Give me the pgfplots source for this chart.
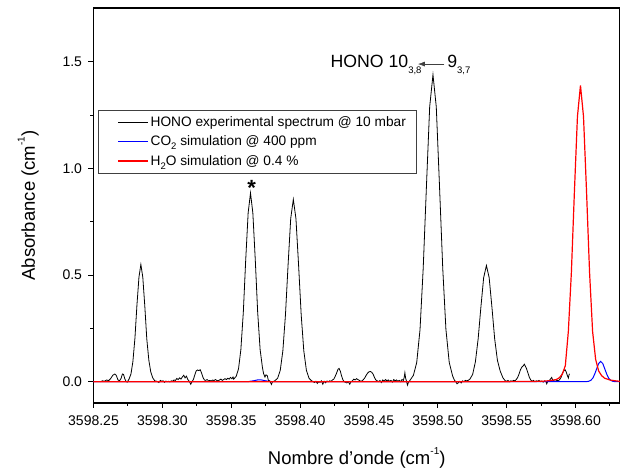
\documentclass[border=0pt]{standalone}
\usepackage{pgfplots}
\pgfplotsset{compat=1.18}
\usetikzlibrary{arrows.meta}
\usepackage{fontspec}
\setmainfont{Liberation Sans}
% small lowered / raised indices as in the original figure
\newcommand\lo[2]{\raisebox{#1}{\fontsize{9.5bp}{10bp}\selectfont #2}}
\newcommand\hi[1]{\raisebox{0.55em}{\fontsize{10bp}{10bp}\selectfont #1}}
\pgfplotsset{
  leg/.style={legend image code/.code={\path (0bp,0bp); \draw[#1, line width=1.2bp] (11bp,0bp) -- (41bp,0bp);}},
}
\begin{document}
\begin{tikzpicture}
% x values are wavenumber - 3598 cm^-1 (labels restore the full value)
\begin{axis}[
    scale only axis,
    width=526.5bp, height=395bp,
    xmin=0.25, xmax=0.6323,
    ymin=-0.1, ymax=1.753,
    axis line style={line width=1.1bp},
    tick align=outside, tick pos=left,
    major tick length=5bp, minor tick length=3bp,
    every tick/.style={black, line width=0.9bp},
    xtick={0.25,0.30,0.35,0.40,0.45,0.50,0.55,0.60},
    xticklabels={3598.25,3598.30,3598.35,3598.40,3598.45,3598.50,3598.55,3598.60},
    minor xtick={0.275,0.325,0.375,0.425,0.475,0.525,0.575,0.625},
    ytick={0,0.5,1,1.5},
    minor ytick={-0.25,0.25,0.75,1.25},
    ticklabel style={font=\fontsize{14bp}{16bp}\selectfont},
    xticklabel style={yshift=-4bp},
    yticklabel style={xshift=-3bp, /pgf/number format/.cd, fixed, fixed zerofill, precision=1, assume math mode=true},
    xlabel={Nombre d'onde (cm\hi{-1})},
    ylabel={Absorbance (cm\hi{-1})},
    label style={font=\fontsize{18.5bp}{20bp}\selectfont},
    xlabel style={at={(axis description cs:0.5,-0.139)}, anchor=center},
    ylabel style={at={(axis description cs:-0.124,0.5)}, anchor=center},
    legend style={at={(axis description cs:0.009,0.741)}, anchor=north west,
        draw=black!75, inner xsep=8bp, inner ysep=4bp,
        font=\fontsize{13.7bp}{15bp}\selectfont, row sep=4bp},
    legend cell align=left,
]
\addplot[black, line width=0.8bp, leg=black] coordinates {
 (0.2551,0.000) (0.2565,0.004) (0.2580,0.002) (0.2595,0.008) (0.2610,0.005)
 (0.2625,0.015) (0.2640,0.030) (0.2655,0.036) (0.2665,0.030) (0.2678,0.008)
 (0.2689,0.004) (0.2700,0.015) (0.2710,0.036) (0.2718,0.034) (0.2728,0.012)
 (0.2738,0.000) (0.2745,-0.002)
 (0.2758,0.012) (0.2772,0.036) (0.2786,0.094) (0.2801,0.205) (0.2815,0.355)
 (0.2830,0.490) (0.2844,0.550) (0.2858,0.490) (0.2873,0.350) (0.2887,0.200)
 (0.2902,0.100) (0.2916,0.045) (0.2930,0.018) (0.2945,0.004)
 (0.2960,0.002) (0.2975,-0.004) (0.2985,0.006) (0.2995,0.002) (0.3005,0.004)
 (0.3015,-0.003) (0.3025,0.003) (0.3035,0.000) (0.3045,0.002) (0.3055,-0.001)
 (0.3065,0.004) (0.3075,0.002) (0.3085,0.008) (0.3095,0.006) (0.3105,0.015)
 (0.3115,0.010) (0.3125,0.018) (0.3135,0.012) (0.3145,0.022) (0.3155,0.030)
 (0.3165,0.018) (0.3175,0.026) (0.3185,0.010) (0.3195,0.002) (0.3206,-0.012)
 (0.3215,0.000) (0.3225,0.010) (0.3235,0.030) (0.3245,0.050) (0.3255,0.055)
 (0.3265,0.052) (0.3275,0.056) (0.3285,0.040) (0.3295,0.020) (0.3305,0.008)
 (0.3315,0.006) (0.3325,0.010) (0.3335,0.004) (0.3345,0.006) (0.3355,0.003)
 (0.3365,0.008) (0.3375,0.005) (0.3385,0.010) (0.3395,0.006) (0.3405,0.004)
 (0.3415,0.008) (0.3425,0.012) (0.3435,0.006) (0.3445,0.010) (0.3455,0.014)
 (0.3465,0.010) (0.3475,0.016) (0.3485,0.012) (0.3495,0.020) (0.3505,0.014)
 (0.3513,0.022)
 (0.3518,0.012) (0.3536,0.025) (0.3553,0.060) (0.3570,0.150) (0.3588,0.327)
 (0.3605,0.568) (0.3623,0.792) (0.3640,0.885) (0.3657,0.792) (0.3675,0.568)
 (0.3692,0.327) (0.3710,0.150) (0.3727,0.065) (0.3735,0.038) (0.3745,0.022)
 (0.3752,0.032) (0.3762,0.028) (0.3770,0.006) (0.3780,0.004) (0.3792,-0.013)
 (0.3800,0.000) (0.3810,0.002)
 (0.3818,0.005) (0.3837,0.016) (0.3856,0.053) (0.3875,0.145) (0.3894,0.315)
 (0.3913,0.549) (0.3932,0.765) (0.3951,0.855) (0.3970,0.765) (0.3989,0.549)
 (0.4008,0.315) (0.4027,0.145) (0.4046,0.053) (0.4065,0.016) (0.4084,0.004)
 (0.4095,0.000) (0.4105,-0.004) (0.4115,0.002) (0.4125,-0.008) (0.4135,0.000)
 (0.4145,-0.003) (0.4155,0.004) (0.4165,-0.012) (0.4175,0.002) (0.4185,-0.005)
 (0.4195,0.003) (0.4205,0.000) (0.4215,0.004) (0.4225,0.002) (0.4235,0.008)
 (0.4245,0.012) (0.4255,0.025) (0.4265,0.040) (0.4275,0.058) (0.4283,0.062)
 (0.4292,0.050) (0.4300,0.030) (0.4310,0.010) (0.4320,0.000) (0.4330,-0.003)
 (0.4340,-0.006) (0.4350,0.000) (0.4361,-0.012) (0.4370,0.000) (0.4380,0.004)
 (0.4390,0.012) (0.4400,0.008) (0.4410,0.014) (0.4420,0.010) (0.4430,0.006)
 (0.4440,0.002) (0.4450,0.004) (0.4460,0.010) (0.4470,0.018) (0.4480,0.030)
 (0.4490,0.040) (0.4500,0.046) (0.4510,0.048) (0.4520,0.044) (0.4530,0.036)
 (0.4540,0.020) (0.4550,0.008) (0.4560,0.004) (0.4570,0.000) (0.4580,0.006)
 (0.4590,-0.004) (0.4600,0.008) (0.4610,0.002) (0.4620,0.010) (0.4630,0.004)
 (0.4640,0.008) (0.4650,0.002) (0.4660,0.006) (0.4670,-0.002) (0.4680,0.010)
 (0.4690,0.004) (0.4700,0.008) (0.4710,0.002) (0.4720,0.006) (0.4730,0.000)
 (0.4740,0.010) (0.4750,0.006) (0.4756,0.020) (0.4761,0.042) (0.4766,0.018)
 (0.4772,0.004) (0.4780,-0.016) (0.4788,0.000) (0.4795,0.004)
 (0.4800,0.008) (0.4823,0.030) (0.4847,0.090) (0.4871,0.245) (0.4894,0.531)
 (0.4918,0.924) (0.4941,1.289) (0.4965,1.440) (0.4989,1.289) (0.5012,0.924)
 (0.5036,0.531) (0.5059,0.245) (0.5083,0.090) (0.5107,0.028) (0.5120,0.008)
 (0.5130,0.000)
 (0.5140,-0.010) (0.5150,-0.004) (0.5160,0.002) (0.5170,-0.006) (0.5180,0.004)
 (0.5190,0.000) (0.5200,0.006) (0.5210,0.004)
 (0.5220,0.006) (0.5233,0.012) (0.5253,0.034) (0.5273,0.093) (0.5293,0.201)
 (0.5313,0.350) (0.5333,0.488) (0.5353,0.545) (0.5373,0.488) (0.5393,0.350)
 (0.5413,0.201) (0.5433,0.100) (0.5453,0.050) (0.5473,0.018) (0.5490,0.004)
 (0.5500,0.002) (0.5510,0.006) (0.5520,0.000) (0.5530,0.004) (0.5540,0.002)
 (0.5550,0.006) (0.5560,0.004) (0.5570,0.010) (0.5580,0.020) (0.5590,0.036)
 (0.5600,0.056) (0.5610,0.068) (0.5620,0.074) (0.5628,0.082) (0.5636,0.072)
 (0.5645,0.060) (0.5655,0.040) (0.5665,0.020) (0.5675,0.008) (0.5685,0.002)
 (0.5695,0.006) (0.5705,0.000) (0.5715,0.004) (0.5725,0.002) (0.5735,0.006)
 (0.5745,0.000) (0.5755,0.003) (0.5765,-0.002) (0.5775,0.004) (0.5785,0.000)
 (0.5791,-0.010) (0.5800,0.004) (0.5810,0.006) (0.5820,0.014) (0.5827,0.020)
 (0.5835,0.006) (0.5845,0.004) (0.5855,0.002) (0.5865,0.006) (0.5875,0.004)
 (0.5885,0.010) (0.5895,0.020) (0.5905,0.040) (0.5915,0.050) (0.5924,0.056)
 (0.5932,0.046) (0.5940,0.030) (0.5948,0.017) (0.5952,0.030) (0.5956,0.037)
};
\addlegendentry{HONO experimental spectrum @ 10 mbar}
\addplot[blue, line width=1bp, leg=blue] coordinates {
 (0.2500,0) (0.3620,0) (0.3660,0.004) (0.3690,0.008) (0.3720,0.008)
 (0.3750,0.004) (0.3790,0) (0.6070,0)
 (0.6081,0.0004) (0.6095,0.0017) (0.6110,0.006) (0.6125,0.016) (0.6139,0.035)
 (0.6154,0.061) (0.6168,0.085) (0.6183,0.095) (0.6198,0.085) (0.6212,0.061)
 (0.6227,0.035) (0.6241,0.016) (0.6256,0.006) (0.6271,0.0017) (0.6285,0.0004)
 (0.6300,0) (0.6323,0)
};
\addlegendentry{CO\lo{-4bp}{2} simulation @ 400 ppm}
\addplot[red, line width=1.2bp, leg=red] coordinates {
 (0.2500,0) (0.5500,0) (0.5700,0.001) (0.5761,0.002) (0.5816,0.005)
 (0.5860,0.010) (0.5882,0.018) (0.5904,0.035) (0.5926,0.075) (0.5948,0.236)
 (0.5970,0.513) (0.5992,0.892) (0.6014,1.244) (0.6036,1.390) (0.6058,1.244)
 (0.6080,0.892) (0.6102,0.513) (0.6124,0.236) (0.6146,0.105) (0.6168,0.050)
 (0.6190,0.028) (0.6212,0.016) (0.6250,0.008) (0.6300,0.003) (0.6323,0.002)
};
\addlegendentry{H\lo{-4bp}{2}O simulation @ 0.4 \%}
% annotations
\node[anchor=base west, inner sep=0pt, font=\fontsize{17.7bp}{19bp}\selectfont]
  at (axis cs:0.4220,1.473) {HONO 10\lo{-6bp}{3,8}};
\draw[-{Latex[length=7bp,width=5bp]}, black!75, line width=0.7bp]
  (axis cs:0.5048,1.490) -- (axis cs:0.4855,1.490);
\node[anchor=base west, inner sep=0pt, font=\fontsize{17.7bp}{19bp}\selectfont]
  at (axis cs:0.5068,1.473) {9\lo{-6bp}{3,7}};
\node[anchor=base, inner sep=0pt, font=\fontsize{22bp}{24bp}\selectfont\bfseries]
  at (axis cs:0.3648,0.875) {*};
\end{axis}
\pgfresetboundingbox
\path ([shift={(-93.5bp,-69bp)}]current axis.south west)
  rectangle ([shift={(0bp,8bp)}]current axis.north east);
\end{tikzpicture}
\end{document}
